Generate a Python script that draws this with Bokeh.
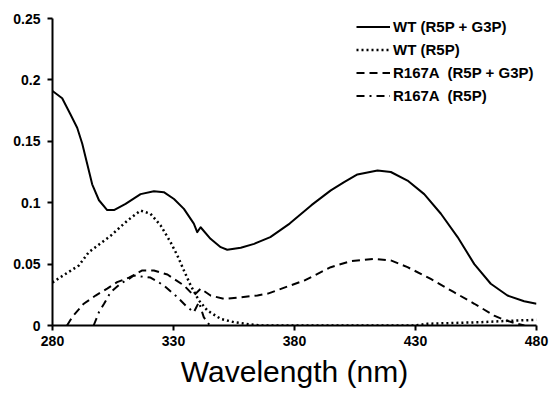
from bokeh.plotting import figure
from bokeh.models import Range1d, FixedTicker, Legend, LegendItem
from bokeh.embed import file_html
from bokeh.resources import INLINE

# --- data ---
wt_g3p_nm = [280, 284, 287.4, 290.2, 292.3, 294.3, 296.4, 299.2, 302.6, 305.4, 310.2, 316.4,
             321.9, 326, 330.2, 334.3, 338.4, 339.8, 341.2, 345.3, 349.5, 352.2, 357.8, 363.3,
             366, 370, 378, 387, 395, 400.5, 406, 414.3, 419.8, 426.7, 433.6, 440.5, 447.4,
             454.3, 461.1, 468, 474.9, 480]
wt_g3p_val = [0.191, 0.185, 0.172, 0.161, 0.148, 0.132, 0.115, 0.102, 0.094, 0.094, 0.099,
              0.107, 0.1094, 0.1086, 0.103, 0.095, 0.083, 0.076, 0.080, 0.0706, 0.0638, 0.0617,
              0.0633, 0.0665, 0.0687, 0.072, 0.083, 0.098, 0.110, 0.1167, 0.123, 0.1262, 0.125,
              0.118, 0.107, 0.091, 0.072, 0.050, 0.034, 0.0244, 0.0198, 0.0177]

wt_r5p_nm = [280, 281.2, 285.4, 290.9, 295, 304, 311, 316.4, 320.5, 324.7, 328.8, 331.6, 334.3,
             337.1, 340.5, 344, 349.5, 355, 361.9, 366, 400, 430, 434.9, 445, 457, 468, 480]
wt_r5p_val = [0.035, 0.0366, 0.042, 0.0489, 0.0597, 0.073, 0.0855, 0.0936, 0.091, 0.0814,
              0.0678, 0.057, 0.0448, 0.0326, 0.0204, 0.0122, 0.0054, 0.0027, 0.0008, 0.0,
              0.0, 0.0, 0.0014, 0.002, 0.0027, 0.0038, 0.0046]

r167a_g3p_nm = [286, 288.1, 292.9, 297.8, 302.6, 306.7, 311.6, 317.1, 321.9, 327.5, 334.3,
                338.4, 341.2, 345.3, 350.8, 357.8, 364.7, 369, 384, 395, 403.3, 412.9, 419.8,
                426.7, 436.3, 445.9, 454.3, 462.5, 466.6, 472, 475]
r167a_g3p_val = [0.0, 0.0068, 0.0177, 0.0244, 0.030, 0.0353, 0.039, 0.0448, 0.0448, 0.0415,
                 0.0326, 0.0244, 0.030, 0.0244, 0.0217, 0.023, 0.0244, 0.026, 0.0366, 0.0475,
                 0.0524, 0.0543, 0.053, 0.0475, 0.038, 0.0271, 0.0177, 0.0081, 0.0046, 0.0014,
                 0.0]

r167a_r5p_nm = [297, 299.2, 301.3, 304, 308.1, 311.6, 313.6, 316.4, 320.5, 326, 331.6, 335,
                338.4, 340.5, 342.5, 345]
r167a_r5p_val = [0.0, 0.0108, 0.0177, 0.027, 0.034, 0.038, 0.0407, 0.040, 0.039, 0.0326,
                 0.023, 0.0163, 0.0108, 0.019, 0.0068, 0.0]

labels = ["WT (R5P + G3P)", "WT (R5P)", "R167A  (R5P + G3P)", "R167A  (R5P)"]
x_ticks = [280, 330, 380, 430, 480]
y_ticks = [0, 0.05, 0.1, 0.15, 0.2, 0.25]
y_tick_labels = ["0", "0.05", "0.1", "0.15", "0.2", "0.25"]
x_label = "Wavelength (nm)"

FONT = "Liberation Sans"

p = figure(width=549, height=397, output_backend="svg", toolbar_location=None,
           x_range=Range1d(280, 480), y_range=Range1d(0, 0.25))
p.min_border_left = 52
p.min_border_right = 13
p.min_border_top = 18
p.min_border_bottom = 72
p.outline_line_color = None
p.background_fill_color = "white"
p.border_fill_color = "white"
p.xgrid.visible = False
p.ygrid.visible = False

r1 = p.line(wt_g3p_nm, wt_g3p_val, line_color="black", line_width=2, line_join="round")
r2 = p.line(wt_r5p_nm, wt_r5p_val, line_color="black", line_width=2.5, line_dash="2 3")
r3 = p.line(r167a_g3p_nm, r167a_g3p_val, line_color="black", line_width=2, line_dash="8 5")
r4 = p.line(r167a_r5p_nm, r167a_r5p_val, line_color="black", line_width=2, line_dash="8 5 2 5")

for ax in (p.xaxis[0], p.yaxis[0]):
    ax.axis_line_width = 2
    ax.axis_line_color = "black"
    ax.major_tick_line_width = 2
    ax.major_tick_line_color = "black"
    ax.major_tick_out = 5
    ax.major_tick_in = 0
    ax.minor_tick_line_color = None
    ax.major_label_text_font = FONT
    ax.major_label_text_font_style = "bold"
    ax.major_label_text_font_size = "14px"
    ax.major_label_text_color = "black"

p.xaxis[0].ticker = FixedTicker(ticks=x_ticks)
p.yaxis[0].ticker = FixedTicker(ticks=y_ticks)
p.yaxis[0].major_label_overrides = {t: s for t, s in zip(y_ticks, y_tick_labels)}
p.yaxis[0].major_label_standoff = 7
p.xaxis[0].major_label_standoff = 5

p.xaxis[0].axis_label = x_label
p.xaxis[0].axis_label_text_font = FONT
p.xaxis[0].axis_label_text_font_style = "normal"
p.xaxis[0].axis_label_text_font_size = "30px"
p.xaxis[0].axis_label_text_color = "black"
p.xaxis[0].axis_label_standoff = 6

legend = Legend(items=[LegendItem(label=labels[0], renderers=[r1]),
                       LegendItem(label=labels[1], renderers=[r2]),
                       LegendItem(label=labels[2], renderers=[r3]),
                       LegendItem(label=labels[3], renderers=[r4])],
                location=(304, 221))
legend.padding = 0
legend.margin = 0
legend.border_line_color = None
legend.background_fill_alpha = 0
legend.glyph_width = 34
legend.glyph_height = 17
legend.label_height = 17
legend.label_standoff = 3
legend.spacing = 6
legend.label_text_font = FONT
legend.label_text_font_style = "bold"
legend.label_text_font_size = "15px"
legend.label_text_color = "black"
p.add_layout(legend, "center")

open("out.html", "w").write(file_html(p, INLINE))
